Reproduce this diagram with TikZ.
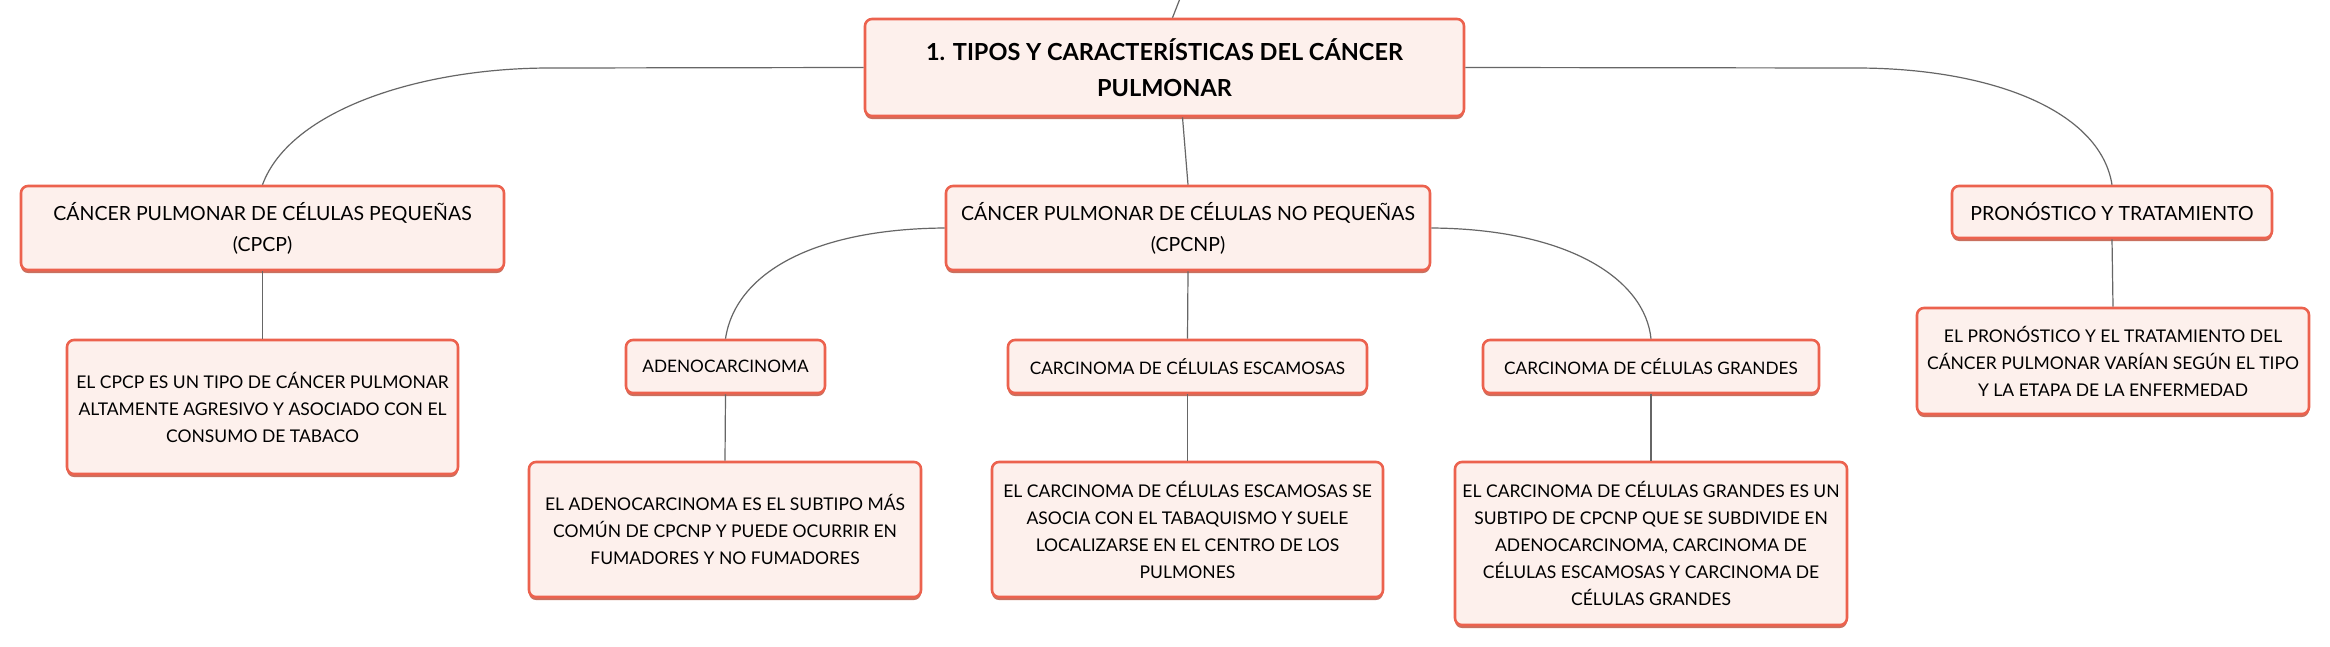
\documentclass[tikz,border=0pt]{standalone}
\usepackage{fontspec}
\setmainfont{Lato}
\definecolor{bordc}{HTML}{EC624E}
\definecolor{fillc}{HTML}{FDF0EC}
\definecolor{shadc}{HTML}{C9705F}
\definecolor{linec}{HTML}{666666}
\tikzset{
  box/.style={draw=bordc, line width=2.6pt, fill=fillc, rounded corners=7pt,
    align=center, inner sep=0pt, font=\fontsize{17.2}{30.5}\selectfont},
  headbox/.style={box, font=\fontsize{19.5}{31}\selectfont},
  descbox/.style={box, font=\fontsize{17.5}{27}\selectfont},
  rootbox/.style={box, font=\fontsize{23.5}{36}\selectfont\bfseries},
  conn/.style={draw=linec, line width=1.2pt},
}
\newcommand{\mkbox}[6]{% style, name, x1, y1, x2, y2 ; text follows
  \fill[shadc, rounded corners=7pt] (#3,#4+3) rectangle (#5,#6+3);
  \node[#1, minimum width={#5-#3}, minimum height={#6-#4}] (#2) at ({(#3+#5)/2},{(#4+#6)/2})}
\begin{document}
\begin{tikzpicture}[x=1pt,y=-1pt]
\useasboundingbox (0,0) rectangle (2330,646);
\fill[white] (0,0) rectangle (2330,646);
% nodes
\mkbox{rootbox}{root}{865}{19}{1464}{116} {1. TIPOS Y CARACTERÍSTICAS DEL CÁNCER\\PULMONAR};
\mkbox{headbox}{cpcp}{21}{186}{504}{270} {CÁNCER PULMONAR DE CÉLULAS PEQUEÑAS\\(CPCP)};
\mkbox{headbox}{cpcnp}{946}{186}{1430}{270} {CÁNCER PULMONAR DE CÉLULAS NO PEQUEÑAS\\(CPCNP)};
\mkbox{headbox}{pron}{1952}{186}{2272}{238} {PRONÓSTICO Y TRATAMIENTO};
\mkbox{descbox}{cpcpd}{67}{340}{458}{474} {EL CPCP ES UN TIPO DE CÁNCER PULMONAR\\ALTAMENTE AGRESIVO Y ASOCIADO CON EL\\CONSUMO DE TABACO};
\mkbox{box}{adeno}{626}{340}{825}{393} {ADENOCARCINOMA};
\mkbox{box}{esca}{1008}{340}{1367}{393} {CARCINOMA DE CÉLULAS ESCAMOSAS};
\mkbox{box}{gran}{1483}{340}{1819}{393} {CARCINOMA DE CÉLULAS GRANDES};
\mkbox{descbox}{adenod}{529}{462}{921}{597} {EL ADENOCARCINOMA ES EL SUBTIPO MÁS\\COMÚN DE CPCNP Y PUEDE OCURRIR EN\\FUMADORES Y NO FUMADORES};
\mkbox{descbox}{escad}{992}{462}{1383}{597} {EL CARCINOMA DE CÉLULAS ESCAMOSAS SE\\ASOCIA CON EL TABAQUISMO Y SUELE\\LOCALIZARSE EN EL CENTRO DE LOS\\PULMONES};
\mkbox{descbox}{grand}{1455}{462}{1847}{625} {EL CARCINOMA DE CÉLULAS GRANDES ES UN\\SUBTIPO DE CPCNP QUE SE SUBDIVIDE EN\\ADENOCARCINOMA, CARCINOMA DE\\CÉLULAS ESCAMOSAS Y CARCINOMA DE\\CÉLULAS GRANDES};
\mkbox{descbox}{prond}{1917}{308}{2309}{414} {EL PRONÓSTICO Y EL TRATAMIENTO DEL\\CÁNCER PULMONAR VARÍAN SEGÚN EL TIPO\\Y LA ETAPA DE LA ENFERMEDAD};
% connectors
\coordinate (topout) at (1181,-4);
\draw[conn] ([xshift=8pt]root.north) -- (topout);
\draw[conn] (root.west) -- (550,68) .. controls (420,68) and (290,110) .. (cpcp.north);
\draw[conn] (root.east) -- (1856,68) .. controls (1990,68) and (2100,110) .. (pron.north);
\draw[conn] ([xshift=18pt]root.south) -- (cpcnp.north);
\draw[conn] (cpcnp.west) .. controls (810,229) and (735,275) .. (adeno.north);
\draw[conn] (cpcnp.east) .. controls (1570,229) and (1645,280) .. (gran.north);
\draw[conn] (cpcnp.south) -- (esca.north);
\draw[conn] (cpcp.south) -- (cpcpd.north);
\draw[conn] (adeno.south) -- (adenod.north);
\draw[conn] (esca.south) -- (escad.north);
\draw[conn] (gran.south) -- (grand.north);
\draw[conn] (pron.south) -- (prond.north);
\end{tikzpicture}
\end{document}
